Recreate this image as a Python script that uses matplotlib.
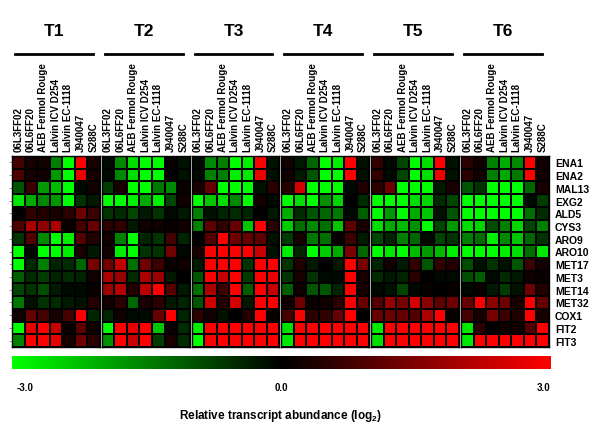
import numpy as np
import matplotlib
matplotlib.use("Agg")
import matplotlib.pyplot as plt
from matplotlib.colors import LinearSegmentedColormap
from matplotlib.lines import Line2D

plt.rcParams['font.family'] = ['Liberation Sans', 'DejaVu Sans']
plt.rcParams['font.weight'] = 'bold'
plt.rcParams['mathtext.fontset'] = 'custom'
plt.rcParams['mathtext.rm'] = 'Liberation Sans:bold'
plt.rcParams['mathtext.it'] = 'Liberation Sans:bold'
plt.rcParams['mathtext.bf'] = 'Liberation Sans:bold'

groups = ['T1', 'T2', 'T3', 'T4', 'T5', 'T6']
strains = ['06L3FF02', '06L6FF20', 'AEB Fermol Rouge', 'Lalvin ICV D254',
           'Lalvin EC-1118', 'J940047', 'S288C']
genes = ['ENA1', 'ENA2', 'MAL13', 'EXG2', 'ALD5', 'CYS3', 'ARO9', 'ARO10',
         'MET17', 'MET3', 'MET14', 'MET32', 'COX1', 'FIT2', 'FIT3']

# log2 relative transcript abundance, rows = genes, cols = strains
t1 = [[0.8, 0.3, 0.2, -1.5, -3.0, 3.0, 0.3],
      [0.9, 0.3, 0.2, -1.8, -3.0, 2.8, 0.3],
      [-1.0, 0.7, -1.8, -2.2, -3.0, -0.1, 0.2],
      [-2.7, -2.0, -1.6, -1.8, -3.0, -0.6, -0.3],
      [0.0, 0.6, 0.4, 0.3, 0.5, 1.3, 0.7],
      [0.9, 2.0, 1.7, 2.0, 0.1, 0.8, 1.2],
      [-0.6, 1.0, -1.6, -3.0, -2.8, 1.0, 0.4],
      [-3.0, -0.1, -3.0, -3.0, -2.8, 0.3, -0.3],
      [-3.0, -0.5, -1.5, -0.4, -0.5, -1.2, 1.4],
      [-1.1, -0.5, -0.7, -0.4, -0.5, -0.4, 0.2],
      [-0.8, -0.6, -0.9, -0.3, -0.1, -0.1, 0.1],
      [-1.4, -0.2, -0.6, -0.5, -0.3, -0.2, 0.4],
      [0.2, 1.2, 0.8, 0.3, 0.8, 3.0, -0.4],
      [-3.0, 2.7, 3.0, 2.3, 0.1, 1.1, 0.2],
      [-1.5, 3.0, 3.0, 2.7, 0.3, 1.3, 0.5]]

t2 = [[-0.1, -1.6, -2.6, -3.0, -3.0, 0.1, -0.2],
      [-0.1, -1.6, -2.6, -3.0, -3.0, 0.0, -0.2],
      [-0.7, 0.3, -3.0, -3.0, -1.4, -1.6, 0.1],
      [-3.0, -3.0, -2.8, -2.0, -2.8, -0.8, 0.2],
      [-0.6, -0.5, -0.8, -0.3, -0.6, -0.1, -0.3],
      [0.5, 0.6, -0.3, 0.2, 0.2, 0.1, 0.2],
      [0.2, -1.5, -3.0, -0.4, -0.6, 0.8, -0.4],
      [0.2, -2.8, -3.0, -0.6, -0.6, 1.3, -0.1],
      [1.3, 2.3, -1.3, 1.3, 0.7, 0.1, 0.2],
      [2.0, 1.8, -0.5, 2.0, 1.8, -0.3, 0.0],
      [1.8, 2.1, 0.4, 2.2, 3.0, 1.0, -0.3],
      [0.2, 0.5, -1.2, 0.3, 0.5, -0.3, -0.4],
      [-0.4, 0.2, -0.1, -0.1, 1.2, 3.0, -0.4],
      [-3.0, 3.0, 2.7, 3.0, -2.3, 0.1, -0.5],
      [-1.7, 3.0, 2.3, 3.0, -0.7, 0.3, -0.5]]

t3 = [[-0.1, -1.6, -1.5, -3.0, -2.8, 3.0, -0.2],
      [-0.1, -1.5, -1.5, -2.8, -2.7, 2.8, -0.2],
      [0.3, 1.2, -3.0, -3.0, -3.0, -0.2, 0.5],
      [-3.0, -2.3, -2.6, -1.6, -3.0, 0.2, -0.1],
      [-1.5, -0.2, -0.4, -0.5, -0.4, 0.0, -0.3],
      [-1.5, 1.1, 0.6, 1.2, -2.3, 3.0, 0.5],
      [0.0, 1.0, 3.0, 1.3, 1.2, 1.1, -0.2],
      [0.3, 3.0, 3.0, 3.0, 3.0, 2.3, -0.2],
      [-0.3, 3.0, 3.0, 3.0, -0.6, 3.0, 3.0],
      [-1.0, 3.0, 2.3, 3.0, -0.7, 3.0, 2.8],
      [-1.3, 2.0, 0.7, 3.0, -1.1, 3.0, 2.3],
      [-1.0, 2.4, 0.4, 2.5, -0.3, 3.0, 3.0],
      [0.5, 0.2, -0.2, 0.0, 0.4, 3.0, 0.1],
      [-2.8, 3.0, 3.0, 3.0, 3.0, 3.0, 3.0],
      [-3.0, 3.0, 3.0, 3.0, 3.0, 3.0, 3.0]]

t4 = [[0.2, -0.3, -1.2, -3.0, -2.8, 3.0, -0.2],
      [0.2, -0.3, -1.0, -3.0, -3.0, 3.0, -0.2],
      [0.4, 2.5, -3.0, -3.0, -3.0, -0.1, 0.4],
      [-3.0, -2.6, -3.0, -1.7, -2.5, 0.0, -0.5],
      [-2.0, -0.5, -1.0, -1.2, -1.4, -0.1, -1.1],
      [-2.4, -1.3, -1.6, -1.3, -2.3, 1.1, 0.3],
      [-0.7, 0.3, -1.4, -1.3, 0.1, 0.7, -0.3],
      [-2.8, -0.4, -3.0, -2.4, -2.0, 1.4, -1.2],
      [-0.6, 0.4, -0.3, 0.0, -0.3, 3.0, 1.4],
      [-0.6, 0.3, -0.6, -0.1, -0.1, 3.0, 0.3],
      [-1.1, 0.2, -1.0, -1.0, -0.4, 3.0, 0.3],
      [0.2, 1.3, 0.1, 0.2, 0.5, 3.0, 1.2],
      [0.8, 3.0, 0.5, 0.6, 1.2, 3.0, 0.0],
      [-2.6, 3.0, 3.0, 3.0, 3.0, 3.0, 3.0],
      [-2.7, 3.0, 3.0, 3.0, 3.0, 3.0, 3.0]]

t5 = [[0.6, -0.1, -0.8, -3.0, -2.6, 3.0, -0.2],
      [0.6, -0.1, -0.8, -3.0, -2.6, 2.8, -0.2],
      [0.5, 1.3, -3.0, -3.0, -3.0, -0.3, 0.3],
      [-3.0, -3.0, -3.0, -2.6, -2.5, -0.5, -0.8],
      [-3.0, -1.8, -3.0, -2.0, -2.3, -0.2, -1.0],
      [-2.6, -2.0, -2.2, -1.7, -3.0, -0.8, -1.8],
      [-0.8, -0.4, -1.5, -1.2, -0.1, -0.8, -0.6],
      [-3.0, -2.7, -3.0, -2.2, -1.8, -2.2, -2.8],
      [-0.4, 0.2, -0.3, 0.6, -1.0, 0.6, 0.4],
      [-0.5, -0.3, -0.4, 0.5, 0.0, -0.1, -0.1],
      [-0.1, -0.2, -0.8, -0.1, 0.1, 0.0, 0.1],
      [1.0, 1.8, 1.4, 2.5, 1.6, 1.1, 1.3],
      [1.2, 1.3, 1.2, 1.0, 2.0, 3.0, 0.1],
      [-2.7, 3.0, 3.0, 3.0, 3.0, 3.0, 3.0],
      [-2.6, 3.0, 3.0, 3.0, 3.0, 3.0, 3.0]]

t6 = [[0.5, 0.2, -1.5, -2.0, -1.6, 3.0, 0.2],
      [0.5, 0.2, -1.5, -2.0, -1.4, 3.0, 0.2],
      [-1.0, -0.6, -3.0, -3.0, -3.0, -1.2, 0.3],
      [-3.0, -3.0, -3.0, -3.0, -3.0, -0.1, -0.7],
      [-3.0, -3.0, -3.0, -3.0, -3.0, -1.3, -0.5],
      [-2.6, -2.5, -0.9, -1.5, -2.5, -0.8, -1.5],
      [-1.5, -1.3, -2.8, -1.6, -2.3, -1.2, -0.6],
      [-3.0, -3.0, -3.0, -2.8, -2.6, -1.3, -2.7],
      [-0.9, -0.2, -0.6, -0.2, -1.0, 0.7, 0.2],
      [-0.9, -1.1, -0.1, -0.5, -0.3, 0.2, 0.1],
      [-0.1, 0.1, -0.3, -0.7, -0.2, 1.3, 0.4],
      [1.2, 3.0, 1.7, 1.3, 0.3, 3.0, 1.2],
      [0.8, 0.3, 1.4, 0.7, 0.4, 3.0, 0.3],
      [-2.7, 0.5, 0.0, 0.2, 0.2, 1.0, 3.0],
      [-2.7, 3.0, 3.0, 3.0, 3.0, 3.0, 3.0]]

data = [t1, t2, t3, t4, t5, t6]

cmap = LinearSegmentedColormap.from_list('gbr', [(0, 1, 0), (0, 0, 0), (1, 0, 0)])

W, H = 600, 431
fig = plt.figure(figsize=(W / 100, H / 100), dpi=100)

left0 = 12
gw = 87.8
gap = 2.0
top, bot = 157, 348

for i, (g, vals) in enumerate(zip(groups, data)):
    x0 = left0 + i * (gw + gap)
    ax = fig.add_axes([x0 / W, 1 - bot / H, gw / W, (bot - top) / H])
    ax.pcolormesh(np.array(vals), cmap=cmap, vmin=-3, vmax=3,
                  edgecolors='black', linewidth=1.2)
    ax.set_xlim(0, 7)
    ax.set_ylim(15, 0)
    for s in ax.spines.values():
        s.set_color('black')
        s.set_linewidth(1)
    ax.xaxis.tick_top()
    ax.set_xticks(np.arange(7) + 0.5)
    ax.set_xticklabels(strains, rotation=90, fontsize=7, fontweight='bold')
    ax.tick_params(axis='x', length=0, pad=3.5)
    if i == 0:
        ax.set_yticks(np.arange(15) + 0.5)
        ax.set_yticklabels([])
        ax.tick_params(axis='y', length=2.5, color='#888888', width=0.6)
    elif i == len(groups) - 1:
        ax.yaxis.tick_right()
        ax.set_yticks(np.arange(15) + 0.5)
        ax.set_yticklabels(genes, fontsize=7.5, fontweight='bold')
        ax.tick_params(axis='y', length=0, pad=4.5)
    else:
        ax.set_yticks([])

    # group header: bar and title
    lx0, lx1 = x0 + 3, x0 + gw - 7
    fig.add_artist(Line2D([lx0 / W, lx1 / W], [1 - 55 / H, 1 - 55 / H],
                          color='black', linewidth=2))
    fig.text((lx0 + lx1) / 2 / W, 1 - 31 / H, g, ha='center', va='center',
             fontsize=12.5, fontweight='bold')

# colour scale
cax = fig.add_axes([12 / W, 1 - 370 / H, 539 / W, 13 / H])
grad = np.linspace(-3, 3, 256).reshape(1, -1)
cax.imshow(grad, cmap=cmap, vmin=-3, vmax=3, aspect='auto',
           extent=[-3, 3, 0, 1])
cax.set_xticks([])
cax.set_yticks([])
for s in cax.spines.values():
    s.set_visible(False)

fig.text(17 / W, 1 - 388 / H, '-3.0', ha='left', va='center',
         fontsize=7, fontweight='bold')
fig.text(281.5 / W, 1 - 388 / H, '0.0', ha='center', va='center',
         fontsize=7, fontweight='bold')
fig.text(550 / W, 1 - 388 / H, '3.0', ha='right', va='center',
         fontsize=7, fontweight='bold')
fig.text(281 / W, 1 - 416 / H, 'Relative transcript abundance (log$_{2}$)',
         ha='center', va='center', fontsize=8.5, fontweight='bold')

fig.savefig('out.png', dpi=100)
